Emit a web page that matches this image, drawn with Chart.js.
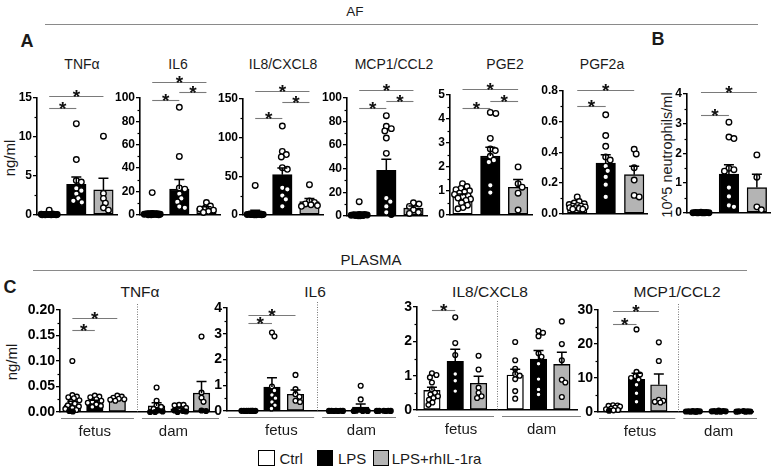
<!DOCTYPE html>
<html><head><meta charset="utf-8">
<script src="https://cdn.jsdelivr.net/npm/chart.js@4.4.1/dist/chart.umd.min.js"></script>
<style>
html,body{margin:0;padding:0;background:#fff;}
#fig{position:relative;width:773px;height:471px;overflow:hidden;font-family:"Liberation Sans",Arial,Helvetica,sans-serif;color:#1a1a1a;}
.t{position:absolute;white-space:nowrap;transform:translate(-50%,-50%);line-height:1;}
.v{position:absolute;white-space:nowrap;transform:translate(-50%,-50%) rotate(-90deg);line-height:1;}
.hl{position:absolute;height:0;border-top:1.4px solid #8a8a8a;}
.box{position:absolute;box-sizing:border-box;border:1.4px solid #000;}
canvas{position:absolute;}
</style></head>
<body><div id="fig"></div>
<script>
// ---------------- DATA ----------------
const groups = ['Ctrl', 'LPS', 'LPS+rhIL-1ra'];
const sites = ['fetus', 'dam'];

// A – amniotic fluid (ng/ml)
const afTnfTicks = ['0', '5', '10', '15'];
const afTnfMean = [0.1, 3.9, 3.2];
const afTnfSem = [0.05, 0.95, 1.5];
const afTnfCtrl = [0.6, 0.1, 0.08, 0.06, 0.05, 0.04, 0.03, 0.02, 0.02, 0.01, 0.01, 0, 0];
const afTnfLps = [11.7, 7.1, 4.4, 4.2, 3.4, 3.1, 2.7, 2.1, 1.8, 1.6];
const afTnfRa = [10.1, 2.75, 2.1, 1.5, 0.9, 0.6];
const afTnfSig = [[0, 1, 13.7], [0, 2, 15.3]];

const afIl6Ticks = ['0', '20', '40', '60', '80', '100'];
const afIl6Mean = [1.8, 22, 5.5];
const afIl6Sem = [1.4, 8.3, 1.4];
const afIl6Ctrl = [19, 1.2, 1, 0.9, 0.8, 0.6, 0.5, 0.4, 0.3, 0.2, 0.1, 0.1, 0];
const afIl6Lps = [92, 50, 23, 22, 18, 14, 11, 7, 6];
const afIl6Ra = [10.5, 7.5, 6, 5, 4, 3, 2];
const afIl6Sig = [[0, 1, 98.7], [1, 2, 104.9], [0, 2, 114.1]];

const afIl8Ticks = ['0', '50', '100', '150'];
const afIl8Mean = [3, 52, 17];
const afIl8Sem = [2.9, 8.5, 4];
const afIl8Ctrl = [38, 1.5, 1.2, 1, 1, 0.8, 0.5, 0.5, 0.3, 0.2, 0, 0, 0];
const afIl8Lps = [115, 82, 78, 75, 61, 59, 35, 33, 25, 20, 11];
const afIl8Ra = [39, 18, 16, 14, 13, 12, 11];
const afIl8Sig = [[0, 1, 125.4], [1, 2, 146.3], [0, 2, 161]];

const afMcpTicks = ['0', '20', '40', '60', '80', '100'];
const afMcpMean = [1.7, 38.5, 6.5];
const afMcpSem = [1, 9.5, 1.8];
const afMcpCtrl = [12, 1.2, 1.1, 1, 0.9, 0.8, 0.6, 0.5, 0.3, 0.2, 0.1, 0];
const afMcpLps = [85, 76, 74, 72, 66, 53, 15, 12, 8, 3, 1];
const afMcpRa = [11, 10, 8, 5, 3, 2];
const afMcpSig = [[0, 1, 91.4], [1, 2, 97.6], [0, 2, 106.8]];

const afPge2Ticks = ['0', '1', '2', '3', '4', '5'];
const afPge2Mean = [0.8, 2.45, 1.15];
const afPge2Sem = [0.07, 0.37, 0.32];
const afPge2Ctrl = [1.3, 1.18, 1.1, 1.05, 1.0, 0.95, 0.9, 0.85, 0.8, 0.75, 0.7, 0.65, 0.6, 0.5, 0.4, 0.3, 0.25];
const afPge2Lps = [4.27, 4.23, 3.19, 2.75, 2.68, 2.44, 2.28, 2.2, 1.23, 0.93];
const afPge2Ra = [2.0, 1.3, 1.15, 0.9, 0.2];
const afPge2Sig = [[0, 1, 4.44], [1, 2, 4.76], [0, 2, 5.23]];

const afPgf2aTicks = ['0.0', '0.2', '0.4', '0.6', '0.8'];
const afPgf2aMean = [0.05, 0.33, 0.255];
const afPgf2aSem = [0.006, 0.055, 0.055];
const afPgf2aCtrl = [0.11, 0.08, 0.07, 0.065, 0.06, 0.055, 0.05, 0.05, 0.045, 0.04, 0.04, 0.035, 0.03, 0.03];
const afPgf2aLps = [0.645, 0.51, 0.44, 0.37, 0.35, 0.31, 0.28, 0.24, 0.19, 0.11];
const afPgf2aRa = [0.42, 0.39, 0.3, 0.22, 0.12, 0.11];
const afPgf2aSig = [[0, 1, 0.705], [0, 2, 0.804]];

// B – neutrophils (10^5 /ml)
const neuTicks = ['0', '1', '2', '3', '4'];
const neuMean = [0.01, 1.3, 0.85];
const neuSem = [0.003, 0.32, 0.45];
const neuCtrl = [0.02, 0.01, 0.01, 0.005, 0, 0, 0, 0, 0, 0];
const neuLps = [3.05, 2.55, 2.5, 1.5, 1.45, 1.4, 0.85, 0.55, 0.25, 0.2];
const neuRa = [1.95, 1.2, 0.2, 0.1];
const neuSig = [[0, 1, 3.28], [0, 2, 4.08]];

// C – plasma (ng/ml), order: fetus Ctrl, LPS, LPS+ra, dam Ctrl, LPS, LPS+ra
const plTnfTicks = ['0.00', '0.05', '0.10', '0.15', '0.20'];
const plTnfMean = [0.014, 0.02, 0.025, 0.012, 0.006, 0.037];
const plTnfSem = [0.007, 0.003, 0.0015, 0.006, 0.002, 0.023];
const plTnfFetusCtrl = [0.1, 0.033, 0.03, 0.029, 0.027, 0.023, 0.02, 0.016, 0.013, 0.011, 0.008, 0.006, 0.004, 0.002, 0.001];
const plTnfFetusLps = [0.032, 0.03, 0.029, 0.025, 0.022, 0.02, 0.018, 0.015, 0.012, 0.01];
const plTnfFetusRa = [0.032, 0.03, 0.028, 0.026, 0.025, 0.024, 0.022];
const plTnfDamCtrl = [0.048, 0.022, 0.013, 0.01, 0.006, 0.003, 0.001, 0, 0];
const plTnfDamLps = [0.014, 0.014, 0.013, 0.008, 0.005, 0.003, 0.002, 0.001, 0];
const plTnfDamRa = [0.148, 0.038, 0.028, 0.02, 0.003, 0.002];
const plTnfSig = [[0, 1, 0.161], [0, 2, 0.184]];

const plIl6Ticks = ['0', '1', '2', '3', '4'];
const plIl6Mean = [0.005, 0.93, 0.65, 0.005, 0.15, 0.005];
const plIl6Sem = [0, 0.36, 0.17, 0, 0.12, 0];
const plIl6FetusCtrl = [0.01, 0.01, 0.008, 0.006, 0.005, 0.004, 0.003, 0.002, 0.001, 0];
const plIl6FetusLps = [3.05, 2.9, 0.95, 0.8, 0.62, 0.5, 0.35, 0.22, 0.1];
const plIl6FetusRa = [1.4, 0.85, 0.65, 0.55, 0.4, 0.35];
const plIl6DamCtrl = [0.01, 0.008, 0.005, 0.004, 0.002, 0.001, 0];
const plIl6DamLps = [0.98, 0.45, 0.05, 0.03, 0.01, 0, 0, 0];
const plIl6DamRa = [0.01, 0.008, 0.005, 0.003, 0.002, 0];
const plIl6Sig = [[0, 1, 3.4], [0, 2, 3.72]];

const plIl8Ticks = ['0', '1', '2', '3'];
const plIl8Mean = [0.57, 1.42, 0.78, 1.02, 1.48, 1.33];
const plIl8Sem = [0.09, 0.35, 0.2, 0.17, 0.25, 0.35];
const plIl8FetusCtrl = [1.07, 1.02, 0.95, 0.8, 0.6, 0.5, 0.45, 0.4, 0.35, 0.3, 0.22, 0.15];
const plIl8FetusLps = [2.7, 1.95, 1.6, 1.05, 0.85, 0.55];
const plIl8FetusRa = [1.58, 1.18, 0.65, 0.5, 0.4, 0.35];
const plIl8DamCtrl = [1.98, 1.45, 1.2, 1.05, 1.0, 0.9, 0.55, 0.33];
const plIl8DamLps = [2.3, 2.25, 2.15, 1.65, 1.55, 1.35, 0.9, 0.6, 0.45];
const plIl8DamRa = [2.58, 1.92, 1.45, 0.88, 0.8, 0.38];
const plIl8Sig = [[0, 1, 2.9]];

const plMcpTicks = ['0', '10', '20', '30'];
const plMcpMean = [1.1, 9.6, 8.0, 0.2, 0.25, 0.2];
const plMcpSem = [0.2, 1.8, 3.2, 0.03, 0.04, 0.03];
const plMcpFetusCtrl = [2.0, 1.9, 1.8, 1.6, 1.3, 1.0, 0.8, 0.6, 0.5, 0.4];
const plMcpFetusLps = [24.3, 11.8, 11, 10.5, 10, 9.5, 8, 5.5, 3];
const plMcpFetusRa = [20.5, 15, 3.6, 3.3, 3.0, 2.8];
const plMcpDamCtrl = [0.3, 0.25, 0.2, 0.2, 0.15, 0.1, 0.1, 0.1];
const plMcpDamLps = [0.4, 0.3, 0.25, 0.2, 0.2, 0.1, 0.1];
const plMcpDamRa = [0.3, 0.2, 0.2, 0.15, 0.1, 0.1];
const plMcpSig = [[0, 1, 25.8], [0, 2, 29.7]];

// ---------------- LAYOUT / STYLE ----------------
const FONT = '"Liberation Sans", Arial, Helvetica, sans-serif';
const fill3 = ['#ffffff', '#000000', '#b4b4b4'];

const panels = [
  {row:'top', ticks:afTnfTicks, mean:afTnfMean, sem:afTnfSem, pts:[afTnfCtrl, afTnfLps, afTnfRa], sig:afTnfSig,
   L:37, R:117, T:98.3, B:220.8, xr:[-0.45, 2.5], pos:[0, 1, 2]},
  {row:'top', ticks:afIl6Ticks, mean:afIl6Mean, sem:afIl6Sem, pts:[afIl6Ctrl, afIl6Lps, afIl6Ra], sig:afIl6Sig,
   L:140, R:220, T:97.7, B:220.7, xr:[-0.45, 2.5], pos:[0, 1, 2]},
  {row:'top', ticks:afIl8Ticks, mean:afIl8Mean, sem:afIl8Sem, pts:[afIl8Ctrl, afIl8Lps, afIl8Ra], sig:afIl8Sig,
   L:243, R:323, T:99, B:221, xr:[-0.45, 2.5], pos:[0, 1, 2]},
  {row:'top', ticks:afMcpTicks, mean:afMcpMean, sem:afMcpSem, pts:[afMcpCtrl, afMcpLps, afMcpRa], sig:afMcpSig,
   L:347, R:427, T:97.7, B:221.3, xr:[-0.45, 2.5], pos:[0, 1, 2]},
  {row:'top', ticks:afPge2Ticks, mean:afPge2Mean, sem:afPge2Sem, pts:[afPge2Ctrl, afPge2Lps, afPge2Ra], sig:afPge2Sig,
   L:450, R:532, T:95, B:220.8, xr:[-0.45, 2.5], pos:[0, 1, 2]},
  {row:'top', ticks:afPgf2aTicks, mean:afPgf2aMean, sem:afPgf2aSem, pts:[afPgf2aCtrl, afPgf2aLps, afPgf2aRa], sig:afPgf2aSig,
   L:563, R:647, T:90.7, B:219.7, xr:[-0.5, 2.45], pos:[0, 1, 2]},
  {row:'top', ticks:neuTicks, mean:neuMean, sem:neuSem, pts:[neuCtrl, neuLps, neuRa], sig:neuSig,
   L:687, R:770, T:94.3, B:219, xr:[-0.5, 2.47], pos:[0, 1, 2]},
  {row:'bot', ticks:plTnfTicks, mean:plTnfMean, sem:plTnfSem,
   pts:[plTnfFetusCtrl, plTnfFetusLps, plTnfFetusRa, plTnfDamCtrl, plTnfDamLps, plTnfDamRa], sig:plTnfSig,
   L:60, R:215, T:310, B:411.7, xr:[-0.55, 6.35], pos:[0, 1, 2, 3.75, 4.75, 5.75], div:2.875, siteAt:[1.0, 4.5]},
  {row:'bot', ticks:plIl6Ticks, mean:plIl6Mean, sem:plIl6Sem,
   pts:[plIl6FetusCtrl, plIl6FetusLps, plIl6FetusRa, plIl6DamCtrl, plIl6DamLps, plIl6DamRa], sig:plIl6Sig,
   L:227, R:392, T:307.7, B:411, xr:[-0.91, 6.1], pos:[0, 1, 2, 3.72, 4.77, 5.75], div:2.92, siteAt:[1.4, 4.8]},
  {row:'bot', ticks:plIl8Ticks, mean:plIl8Mean, sem:plIl8Sem,
   pts:[plIl8FetusCtrl, plIl8FetusLps, plIl8FetusRa, plIl8DamCtrl, plIl8DamLps, plIl8DamRa], sig:plIl8Sig,
   L:416.7, R:576.7, T:307.3, B:410.7, xr:[-0.64, 6.22], pos:[0, 1, 2, 3.57, 4.57, 5.57], div:2.79, siteAt:[1.25, 4.7]},
  {row:'bot', ticks:plMcpTicks, mean:plMcpMean, sem:plMcpSem,
   pts:[plMcpFetusCtrl, plMcpFetusLps, plMcpFetusRa, plMcpDamCtrl, plMcpDamLps, plMcpDamRa], sig:plMcpSig,
   L:598, R:753, T:310, B:411.7, xr:[-0.64, 5.96], pos:[0, 1, 1.95, 3.4, 4.5, 5.55], div:2.78, siteAt:[1.15, 4.5]}
];

const texts = [
  // [text, x, y, size, weight, vertical]
  ['AF', 355, 12, 13.5, 'normal'],
  ['PLASMA', 371, 259, 15, 'normal'],
  ['A', 27, 41, 18, 'bold'], ['B', 658, 39, 18, 'bold'], ['C', 10, 287, 18, 'bold'],
  ['TNFα', 82, 64, 14, 'normal'], ['IL6', 178, 64, 14, 'normal'], ['IL8/CXCL8', 283, 64, 14, 'normal'],
  ['MCP1/CCL2', 394, 64, 14, 'normal'], ['PGE2', 505, 64, 14, 'normal'], ['PGF2a', 602, 64, 14, 'normal'],
  ['TNFα', 140, 292, 15.5, 'normal'], ['IL6', 315, 292, 15.5, 'normal'], ['IL8/CXCL8', 490, 292, 15.5, 'normal'],
  ['MCP1/CCL2', 677, 292, 15.5, 'normal'],
  ['ng/ml', 9, 158, 15, 'normal', true], ['ng/ml', 11, 362, 15, 'normal', true],
  ['10^5 neutrophils/ml', 667, 155, 14.5, 'normal', true]
];
const hlines = [[45, 758, 24], [33, 747, 270]];
const legendItems = [[258, 279.5], [316.7, 338], [372.7, 391.7]];

// ---------------- BUILD ----------------
const fig = document.getElementById('fig');
texts.forEach(([s, x, y, size, w, vert]) => {
  const d = document.createElement('div');
  d.className = vert ? 'v' : 't';
  d.textContent = s;
  d.style.left = x + 'px'; d.style.top = y + 'px';
  d.style.fontSize = size + 'px'; d.style.fontWeight = w;
  fig.appendChild(d);
});
hlines.forEach(([x1, x2, y]) => {
  const d = document.createElement('div');
  d.className = 'hl';
  d.style.left = x1 + 'px'; d.style.top = y + 'px'; d.style.width = (x2 - x1) + 'px';
  fig.appendChild(d);
});
groups.forEach((g, i) => {
  const [bx, tx] = legendItems[i];
  const b = document.createElement('div');
  b.className = 'box';
  b.style.left = bx + 'px'; b.style.top = '450px'; b.style.width = '16.5px'; b.style.height = '15.5px';
  b.style.background = fill3[i];
  fig.appendChild(b);
  const t = document.createElement('div');
  t.className = 't';
  t.textContent = g;
  t.style.transform = 'translate(0,-50%)';
  t.style.left = tx + 'px'; t.style.top = '458px'; t.style.fontSize = '15px';
  fig.appendChild(t);
});

function swarm(vals, pyu, r, maxOff) {
  const order = vals.map((v, i) => i).sort((a, b) => vals[b] - vals[a]);
  const placed = [], off = new Array(vals.length).fill(0);
  const cands = [0];
  for (let k = 0.5; k <= maxOff; k += 0.5) cands.push(k, -k);
  for (const i of order) {
    const py = vals[i] * pyu;
    let best = 0, bestScore = -1;
    for (const c of cands) {
      let md = Infinity;
      for (const q of placed) { const dd = Math.hypot(q.px - c, q.py - py); if (dd < md) md = dd; }
      if (md >= 2 * r * 0.92) { best = c; break; }
      if (md > bestScore + 0.01) { bestScore = md; best = c; }
    }
    placed.push({px: best, py});
    off[i] = best;
  }
  return off;
}

panels.forEach(p => {
  const top = p.row === 'top';
  const Wy = top ? 34 : 46, padTop = 40, padRight = 10, padBottom = 2, xh = top ? 0 : 30;
  const left = Math.round(p.L - Wy), topPx = Math.round(p.T - padTop);
  const w = Math.round(Wy + (p.R - p.L) + padRight);
  const h = Math.round(padTop + (p.B - p.T) + xh + padBottom);
  const cv = document.createElement('canvas');
  cv.width = w; cv.height = h;
  cv.style.left = left + 'px'; cv.style.top = topPx + 'px';
  cv.style.width = w + 'px'; cv.style.height = h + 'px';
  fig.appendChild(cv);

  const tickVals = p.ticks.map(Number);
  const ymax = tickVals[tickVals.length - 1];
  const pyu = (p.B - p.T) / ymax;
  const pxu = (p.R - p.L) / (p.xr[1] - p.xr[0]);
  const r = top ? 2.8 : 2.4;
  const colors = p.pos.map((_, i) => fill3[i % 3]);
  const scatter = [], ptFill = [];
  p.pts.forEach((vals, g) => {
    const off = swarm(vals, pyu, r, top ? 8 : 7);
    vals.forEach((v, k) => {
      scatter.push({x: p.pos[g] + off[k] / pxu, y: v});
      ptFill.push(v * pyu < 1.6 ? '#000' : '#fff');   // overlapping points on the baseline merge into a dark blob
    });
  });
  const tickFont = {family: FONT, size: top ? 12 : 14, weight: 'bold'};

  const extras = {
    id: 'extras',
    afterDatasetsDraw(chart) {
      const ctx = chart.ctx, xs = chart.scales.x, ys = chart.scales.y;
      ctx.save();
      ctx.strokeStyle = '#000'; ctx.lineWidth = 1.5;
      p.mean.forEach((m, i) => {
        const s = p.sem[i]; if (!s) return;
        const x = xs.getPixelForValue(p.pos[i]);
        const y0 = ys.getPixelForValue(m), y1 = ys.getPixelForValue(m + s);
        if (y0 - y1 < 1) return;
        ctx.beginPath();
        ctx.moveTo(x, y0); ctx.lineTo(x, y1);
        ctx.moveTo(x - 5, y1); ctx.lineTo(x + 5, y1);
        ctx.stroke();
      });
      ctx.restore();
    },
    afterDraw(chart) {
      const ctx = chart.ctx, xs = chart.scales.x, ys = chart.scales.y, a = chart.chartArea;
      ctx.save();
      ctx.strokeStyle = '#000'; ctx.lineWidth = 1.2;
      for (let i = 0; i < tickVals.length - 1; i++) {
        const y = Math.round(ys.getPixelForValue((tickVals[i] + tickVals[i + 1]) / 2)) + 0.5;
        ctx.beginPath(); ctx.moveTo(a.left - 2.5, y); ctx.lineTo(a.left, y); ctx.stroke();
      }
      p.sig.forEach(([g1, g2, lv]) => {
        const y = Math.round(ys.getPixelForValue(lv)) + 0.5;
        const x1 = xs.getPixelForValue(p.pos[g1]), x2 = xs.getPixelForValue(p.pos[g2]);
        ctx.strokeStyle = '#7a7a7a'; ctx.lineWidth = 1.1;
        ctx.beginPath(); ctx.moveTo(x1, y); ctx.lineTo(x2, y); ctx.stroke();
        ctx.fillStyle = '#111'; ctx.font = 'bold 19px ' + FONT; ctx.textAlign = 'center'; ctx.textBaseline = 'alphabetic';
        ctx.fillText('*', (x1 + x2) / 2, y + 6);
      });
      if (!top) {
        const xd = xs.getPixelForValue(p.div);
        ctx.strokeStyle = '#777'; ctx.lineWidth = 1; ctx.setLineDash([1, 1.5]);
        ctx.beginPath(); ctx.moveTo(Math.round(xd) + 0.5, a.top - 6); ctx.lineTo(Math.round(xd) + 0.5, a.bottom); ctx.stroke();
        ctx.setLineDash([]);
        const yu = a.bottom + 6.5;
        ctx.strokeStyle = '#808080'; ctx.lineWidth = 1.2;
        ctx.beginPath();
        ctx.moveTo(a.left + 1, yu); ctx.lineTo(xd - 3, yu);
        ctx.moveTo(xd + 5, yu); ctx.lineTo(a.right + 4, yu);
        ctx.stroke();
      }
      ctx.restore();
    }
  };

  new Chart(cv, {
    type: 'bar',
    data: {
      datasets: [
        {type: 'bar', data: p.pos.map((x, i) => ({x, y: p.mean[i]})), backgroundColor: colors,
         borderColor: '#000', borderWidth: 1.4, borderSkipped: false, barThickness: top ? 19.5 : 16.5, order: 2},
        {type: 'scatter', data: scatter, pointRadius: r, pointBackgroundColor: ptFill, pointBorderColor: '#000',
         pointBorderWidth: 1.35, clip: false, order: 1}
      ]
    },
    options: {
      responsive: false, animation: false, devicePixelRatio: 1, events: [],
      layout: {padding: {top: padTop, right: padRight, bottom: padBottom, left: 0}},
      plugins: {legend: {display: false}, tooltip: {enabled: false}, title: {display: false}},
      scales: {
        x: {
          type: 'linear', min: p.xr[0], max: p.xr[1], offset: false,
          afterFit: s => { s.height = xh; },
          afterBuildTicks: s => { s.ticks = top ? [] : p.siteAt.map(v => ({value: v})); },
          ticks: {display: !top, autoSkip: false, maxRotation: 0, padding: 11,
                  font: {family: FONT, size: 15}, color: '#1a1a1a',
                  callback: (v, i) => sites[i]},
          grid: {display: true, drawOnChartArea: false, drawTicks: false},
          border: {display: true, color: '#000', width: 1.6}
        },
        y: {
          type: 'linear', min: 0, max: ymax,
          afterFit: s => { s.width = Wy; },
          afterBuildTicks: s => { s.ticks = tickVals.map(v => ({value: v})); },
          ticks: {font: tickFont, color: '#000', padding: 1, autoSkip: false,
                  callback: (v, i) => p.ticks[i]},
          grid: {display: true, drawOnChartArea: false, drawTicks: true, tickLength: 4, color: '#000', lineWidth: 1.3},
          border: {display: true, color: '#000', width: 1.6}
        }
      }
    },
    plugins: [extras]
  });
});
</script>
</body></html>
